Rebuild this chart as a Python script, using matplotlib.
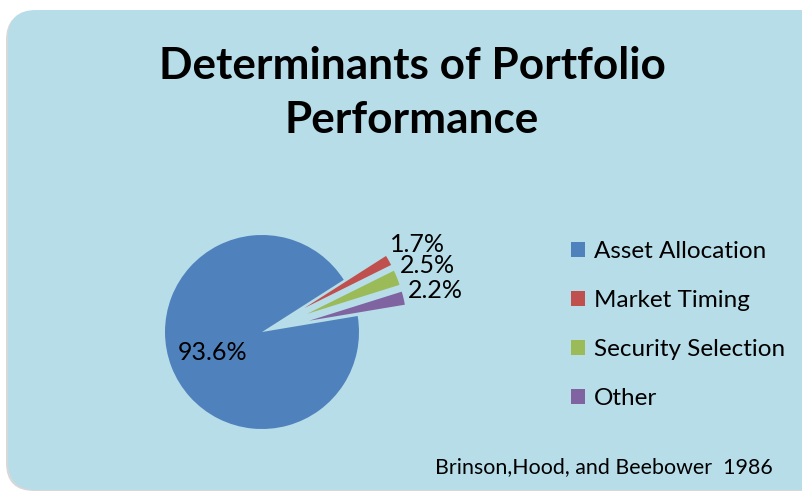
import matplotlib
matplotlib.use("Agg")
from matplotlib import pyplot as plt
from matplotlib.patches import FancyBboxPatch
import numpy as np

plt.rcParams['font.family'] = ['Lato', 'DejaVu Sans']

# data
labels = ['Asset Allocation', 'Market Timing', 'Security Selection', 'Other']
values = [93.6, 1.7, 2.5, 2.2]
colors = ['#4F81BD', '#C0504D', '#9BBB59', '#8064A2']
explode = [0, 0.5, 0.5, 0.5]   # fraction of the radius

title = 'Determinants of Portfolio\nPerformance'
source = 'Brinson,Hood, and Beebower  1986'

W, H = 803, 494
R = 97
fig = plt.figure(figsize=(W / 100, H / 100), dpi=100)
ax = fig.add_axes([0, 0, 1, 1])

# background panel (with a faint shadow)
shadow = FancyBboxPatch((6, 3), 860, 479, boxstyle="round,pad=0,rounding_size=28",
                        facecolor='#d8d8d8', edgecolor='none', zorder=0)
ax.add_patch(shadow)
panel = FancyBboxPatch((8, 4), 860, 480, boxstyle="round,pad=0,rounding_size=28",
                       facecolor='#B7DDE8', edgecolor='none', zorder=1)
ax.add_patch(panel)

wedges, texts, autotexts = ax.pie(values, colors=colors,
                                  explode=[e * R for e in explode],
                                  startangle=9.5, counterclock=False,
                                  center=(262, H - 332), radius=R,
                                  autopct='%1.1f%%', pctdistance=1.34,
                                  textprops={'fontsize': 18, 'color': 'black'},
                                  wedgeprops={'linewidth': 0, 'zorder': 2},
                                  frame=True)
ax.set_xlim(0, W)
ax.set_ylim(0, H)
ax.set_aspect('equal')
ax.axis('off')

# big slice label sits inside the slice
w0 = wedges[0]
mid = np.deg2rad((w0.theta1 + w0.theta2) / 2 + 2)
cx, cy = w0.center
autotexts[0].set_position((cx + 0.55 * R * np.cos(mid), cy + 0.55 * R * np.sin(mid)))
for t in autotexts:
    t.set_zorder(3)

ax.text(412, H - 93, title, ha='center', va='center', fontsize=31.8,
        fontweight='bold', linespacing=1.4, zorder=3)

leg = ax.legend(wedges, labels, loc='center left', bbox_to_anchor=(571, H - 325),
                bbox_transform=ax.transData, frameon=False, fontsize=17.5,
                handlelength=0.58, handleheight=0.58, handletextpad=0.35,
                labelspacing=1.15, borderpad=0, borderaxespad=0)
leg.set_zorder(3)

ax.text(773, H - 467, source, ha='right', va='center', fontsize=15.4, zorder=3)

plt.savefig('out.png', dpi=100)
